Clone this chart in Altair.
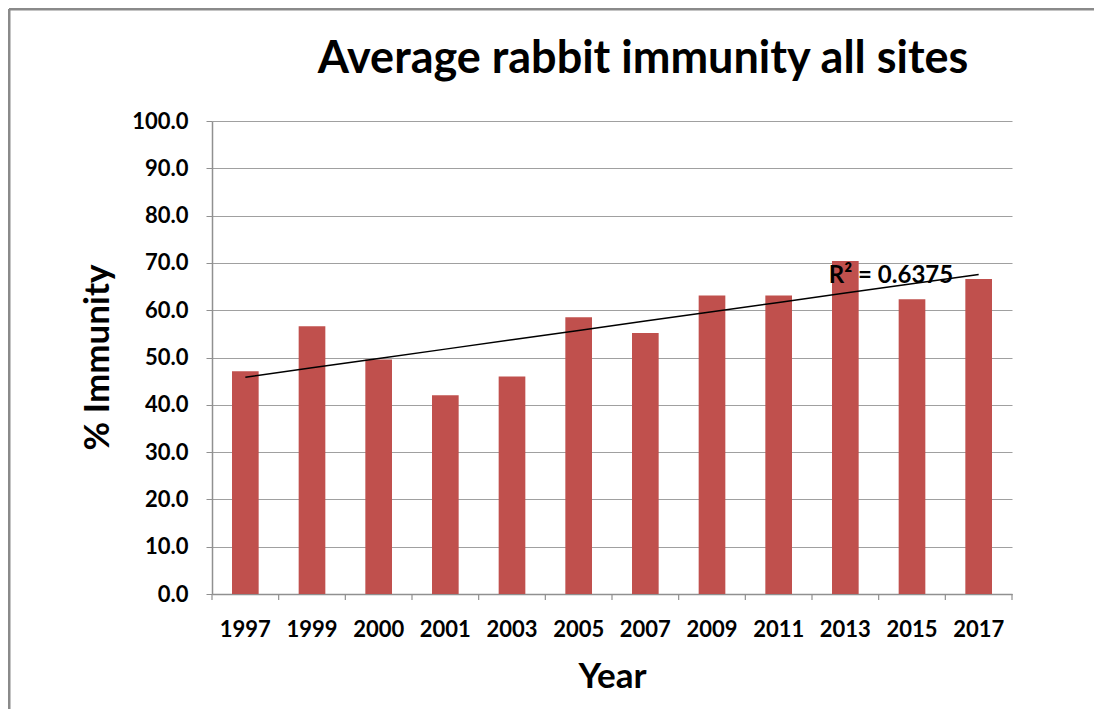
import altair as alt
import numpy as np
import pandas as pd

years = ["1997", "1999", "2000", "2001", "2003", "2005", "2007", "2009", "2011", "2013", "2015", "2017"]
immunity = [47.1, 56.6, 49.6, 42.0, 46.0, 58.5, 55.2, 63.1, 63.1, 70.4, 62.3, 66.6]
r2_label = "R\u00b2 = 0.6375"
r2_year = "2015"
r2_value = 67.3
title_text = "Average rabbit immunity all sites"

idx = np.arange(1, len(years) + 1)
slope, intercept = np.polyfit(idx, immunity, 1)
trend = list(slope * idx + intercept)

df = pd.DataFrame({"Year": years, "Immunity": immunity, "Trend": trend})

FONT = "Lato"
W, H = 800, 473

xenc = alt.X(
    "Year:N", sort=years,
    scale=alt.Scale(paddingInner=0.6, paddingOuter=0.3),
    axis=alt.Axis(
        title="Year", titleFont=FONT, titleFontSize=35, titleFontWeight="bold",
        titleColor="black", titleX=400, titleY=82, titleBaseline="middle",
        labelFont=FONT, labelFontSize=22, labelFontWeight="bold", labelColor="black",
        labelAngle=0, labelBaseline="middle", labelPadding=35, ticks=False,
        domainColor="#909090", domainWidth=1.5, grid=False,
    ),
)
yenc = alt.Y(
    "Immunity:Q",
    scale=alt.Scale(domain=[0, 100], nice=False),
    axis=alt.Axis(
        title="% Immunity", titleFont=FONT, titleFontSize=35, titleFontWeight="bold",
        titleColor="black", titleAngle=-90, titleX=-115, titleY=236, titleBaseline="middle",
        titleAlign="center",
        values=list(range(0, 101, 10)), format=".1f",
        labelFont=FONT, labelFontSize=22, labelFontWeight="bold", labelColor="black",
        labelPadding=18, tickSize=6, tickColor="#909090",
        domainColor="#909090", domainWidth=1.5,
        grid=True, gridColor="#A0A0A0", gridWidth=1.2,
    ),
)

bars = alt.Chart(df).mark_bar(color="#C0504D").encode(x=xenc, y=yenc)

xticks = alt.Chart(df).mark_rule(color="#909090", strokeWidth=1.2).encode(
    x=alt.X("Year:N", sort=years), xOffset=alt.value(-20),
    y=alt.value(H), y2=alt.value(H + 6),
)
xtick_end = alt.Chart(df.tail(1)).mark_rule(color="#909090", strokeWidth=1.2).encode(
    x=alt.X("Year:N", sort=years), xOffset=alt.value(46.67),
    y=alt.value(H), y2=alt.value(H + 6),
)

trendline = alt.Chart(df).mark_line(color="black", strokeWidth=1.5).encode(
    x=alt.X("Year:N", sort=years), y=alt.Y("Trend:Q"),
)

r2 = alt.Chart(pd.DataFrame({"Year": [r2_year], "v": [r2_value], "t": [r2_label]})).mark_text(
    font=FONT, fontSize=24, fontWeight="bold", color="black", dx=-21, baseline="middle",
).encode(x=alt.X("Year:N", sort=years), y=alt.Y("v:Q"), text="t:N")

single = pd.DataFrame({"t": [title_text]})
title_mark = alt.Chart(single).mark_text(
    font=FONT, fontSize=45, fontWeight="bold", color="black", align="center",
    baseline="alphabetic", clip=False,
).encode(x=alt.value(431), y=alt.value(-48), text="t:N")

frame_left = alt.Chart(single).mark_rule(color="#8A8A8A", strokeWidth=3, clip=False).encode(
    x=alt.value(-203), y=alt.value(-112), y2=alt.value(H + 140),
)
frame_top = alt.Chart(single).mark_rule(color="#8A8A8A", strokeWidth=3, clip=False).encode(
    x=alt.value(-203), x2=alt.value(W + 100), y=alt.value(-112),
)

chart = alt.layer(bars, xticks, xtick_end, trendline, r2, title_mark, frame_left, frame_top).properties(
    width=W, height=H,
    autosize=alt.AutoSizeParams(type="none"),
    padding={"left": 204, "top": 113, "right": 82, "bottom": 115},
).configure_view(stroke=None)

chart.save("out.html", embed_options={"renderer": "svg", "actions": False})
